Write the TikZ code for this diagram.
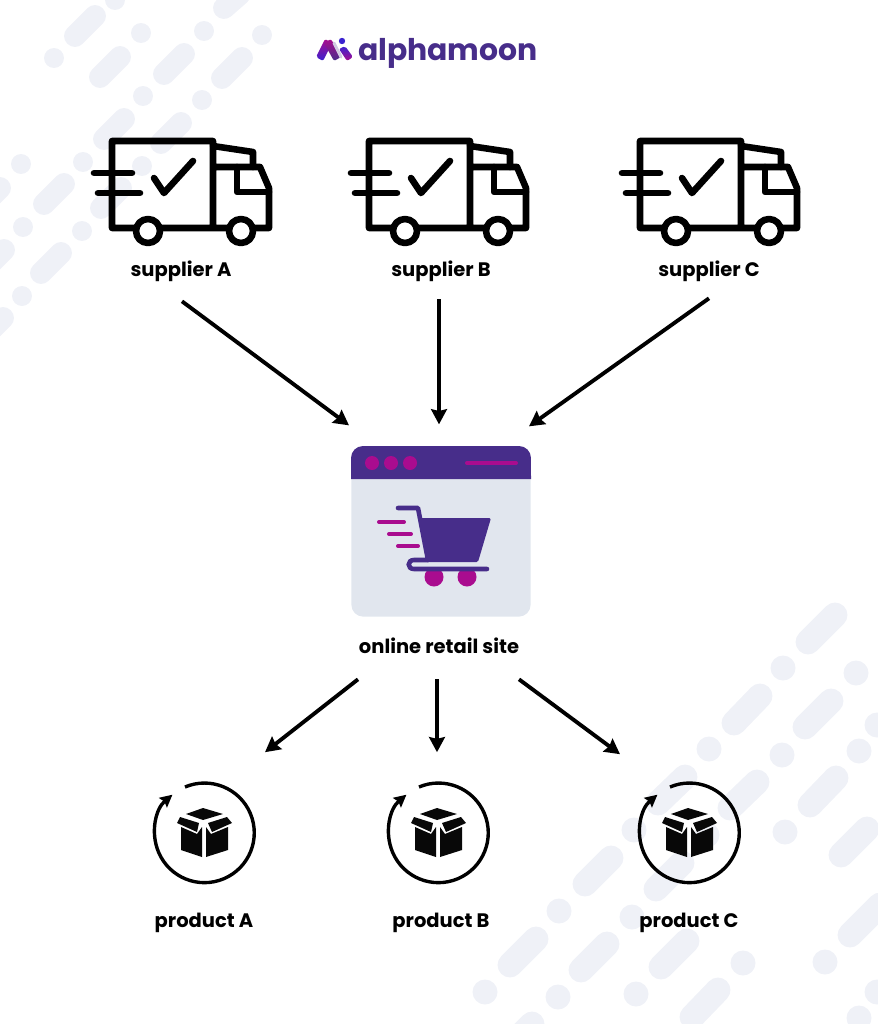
\documentclass[tikz,border=0pt]{standalone}
\usepackage{fontspec}
\setmainfont{Poppins}
\usetikzlibrary{arrows.meta,positioning}
\definecolor{pale}{HTML}{EFF1F7}
\definecolor{sitegrey}{HTML}{E1E6EE}
\definecolor{moonpurple}{HTML}{472D8A}
\definecolor{moonpink}{HTML}{A90C8F}
\definecolor{moonblue}{HTML}{3A22D0}
\def\px{0.5669pt}
\tikzset{
  truck/.pic={
    \draw[icon] (213,228) -- (112,228) -- (112,141) -- (213,141) -- (213,228) -- (269,228) -- (269,188) -- (260,167) -- (213,167);
    \draw[icon] (213,146) -- (253,152) -- (253,167);
    \draw[icon] (237,167) -- (237,192) -- (269,192);
    \draw[icon] (94,173) -- (132,173);
    \draw[icon] (98,193) -- (140,193);
    \draw[icon] (154,178) -- (164,193) -- (193,161);
    \draw[icon,fill=white] (148,231) circle (12);
    \draw[icon,fill=white] (241,231) circle (12);
  },
  parcel/.pic={
    \fill[boxface] (186,814) -- (203,808) -- (223,814) -- (203,820) -- cycle;
    \fill[boxface] (180,817) -- (199,823) -- (197,832) -- (177,823) -- cycle;
    \fill[boxface] (227,817) -- (208,823) -- (212,832) -- (232,823) -- cycle;
    \fill[boxface] (181,827) -- (197,834) -- (202,827) -- (202,857) -- (181,850) -- cycle;
    \fill[boxface] (206,827) -- (211,834) -- (228,827) -- (228,850) -- (206,857) -- cycle;
    \draw[loopline] (185,787) arc[start angle=113,end angle=-230,radius=50*\px];
  }
}
\begin{document}
\begin{tikzpicture}[x=0.02cm,y=-0.02cm]
\tikzstyle{icon}=[black, line width=6.6*\px, line cap=round, line join=round];
\tikzstyle{boxface}=[fill=black!97];
\tikzstyle{loopline}=[black, line width=3.4*\px, -{Stealth[length=7pt,width=7pt,inset=1pt]}];
\tikzstyle{lbl}=[font=\fontsize{11.1}{13}\selectfont\bfseries, inner sep=0pt, text height=13*\px, text depth=4*\px];
\tikzstyle{flow}=[black, line width=2.2pt, -{Stealth[length=8.6pt,width=9pt,inset=1pt]}];
\tikzstyle{smallpink}=[moonpink, line width=4*\px, line cap=round];
\tikzstyle{pill}=[pale, line width=22*\px, line cap=round];
\tikzstyle{bigpill}=[pale, line width=25*\px, line cap=round];
\useasboundingbox (0,0) rectangle (878,1024);

% background
\begin{scope}
\clip (0,0) rectangle (878,1024);
\foreach \xa/\ya/\xb/\yb in {75/36/95/16, 100/77/120/57, 164/74/184/54, 222/78/242/58, 224/8/240/-6, 104/139/124/119, 161/143/181/123, 44/204/64/184, 101/208/121/188, -20/208/0/188, -16/270/4/250, 41/273/61/253, -17/338/3/318}
  \draw[pill] (\xa,\ya) -- (\xb,\yb);
\foreach \xa/\ya in {54/58, 141/33, 204/31, 262/35, 115/0, 143/96, 202/100, 21/164, 83/162, 142/166, 23/227, 82/231, 22/296}
  \fill[pale] (\xa,\ya) circle (10);
\foreach \xa/\ya/\xb/\yb in {808/642/835/615, 734/723/760/696, 805/727/831/701, 658/803/685/777, 730/808/757/782, 810/805/836/778, 841/855/867/829, 585/884/611/858, 656/889/682/863, 850/935/880/905, 510/965/536/939, 581/970/607/944, 661/967/687/941, 692/1017/718/990, 515/1041/532/1024}
  \draw[bigpill] (\xa,\ya) -- (\xb,\yb);
\foreach \xa/\ya in {783/668, 856/673, 709/749, 782/755, 859/751, 877/725, 634/830, 707/835, 785/832, 559/911, 632/917, 743/963, 825/962, 485/992, 558/997, 636/994, 877/992, 859/1018}
  \fill[pale] (\xa,\ya) circle (12.5);
\end{scope}

% logo
\shade[top color=moonpink, bottom color=moonblue, rounded corners=2*\px] (325,39) -- (332,43) -- (323,61) -- (316,57) -- cycle;
\shade[top color=moonpink, bottom color=moonpurple, rounded corners=2*\px] (324,43) -- (331,39) -- (341,57) -- (334,61) -- cycle;
\draw[moonpurple!25, line width=3*\px, line cap=round] (334,43) -- (341,57);
\shade[top color=moonblue, bottom color=moonpink, rounded corners=2*\px] (339,49) -- (345,46) -- (353,57) -- (347,61) -- cycle;
\fill[moonblue] (342,41) circle (3.2);
\node[inner sep=0pt, text=moonpurple, font=\fontsize{17}{20}\selectfont\bfseries] (brand) at (448,53) {alphamoon};

% trucks
\pic at (0,0) {truck};
\pic at (257,0) {truck};
\pic at (528,0) {truck};
\node[lbl] (supA) at (181,272) {supplier A};
\node[lbl] (supB) at (441,272) {supplier B};
\node[lbl] (supC) at (709,272) {supplier C};

% retail site
\node[fill=sitegrey, rounded corners=12*\px, minimum width=180*\px, minimum height=171*\px, inner sep=0pt, outer sep=0pt] (site) at (441,531.5) {};
\fill[moonpurple] (351,479) -- (351,458) arc[start angle=180,end angle=90,radius=12*\px] -- (519,446) arc[start angle=90,end angle=0,radius=12*\px] -- (531,479) -- cycle;
\fill[moonpink] (372,463) circle (7);
\fill[moonpink] (391,463) circle (7);
\fill[moonpink] (410,463) circle (7);
\draw[smallpink] (467,463) -- (516,463);
\fill[moonpink] (434,577) circle (9.5);
\fill[moonpink] (467,577) circle (9.5);
\draw[moonpurple, line width=4.6*\px, line cap=round, line join=round] (398,508) -- (418,508) -- (428,560);
\fill[moonpurple, rounded corners=1.5*\px] (420,518) -- (491,518) -- (478,562) -- (428,562) -- cycle;
\draw[moonpurple, line width=4.6*\px, line cap=round] (428,560) -- (414,560) .. controls (407,560) and (407,569) .. (414,569) -- (487,569);
\draw[smallpink] (379,522) -- (404,522);
\draw[smallpink] (389,534) -- (411,534);
\draw[smallpink] (398,546) -- (418,546);
\node[lbl] (siteLbl) at (439,649) {online retail site};

% products
\node[circle, minimum size=100*\px, inner sep=0pt, outer sep=0pt] (prodA) at (204,832.5) {};
\node[circle, minimum size=100*\px, inner sep=0pt, outer sep=0pt] (prodB) at (438,832.5) {};
\node[circle, minimum size=100*\px, inner sep=0pt, outer sep=0pt] (prodC) at (689,832.5) {};
\pic at (0,0) {parcel};
\pic at (234,0) {parcel};
\pic at (485,0) {parcel};
\node[lbl] (prodAlbl) at (204,923) {product A};
\node[lbl] (prodBlbl) at (441,923) {product B};
\node[lbl] (prodClbl) at (689,923) {product C};

\draw[flow] ([shift={(1,20.5)}]supA.south) -- ([shift={(-92,-21)}]site.north);
\draw[flow] ([shift={(-2,18.5)}]supB.south) -- ([shift={(-2,-22)}]site.north);
\draw[flow] ([shift={(0,17.5)}]supC.south) -- ([shift={(88,-20)}]site.north);
\draw[flow] ([shift={(-81,21.5)}]siteLbl.south) -- ([shift={(61,-30.5)}]prodA.north);
\draw[flow] ([shift={(-2,21.5)}]siteLbl.south) -- ([shift={(-1,-30.5)}]prodB.north);
\draw[flow] ([shift={(80,21.5)}]siteLbl.south) -- ([shift={(-69,-28.5)}]prodC.north);
\end{tikzpicture}
\end{document}
